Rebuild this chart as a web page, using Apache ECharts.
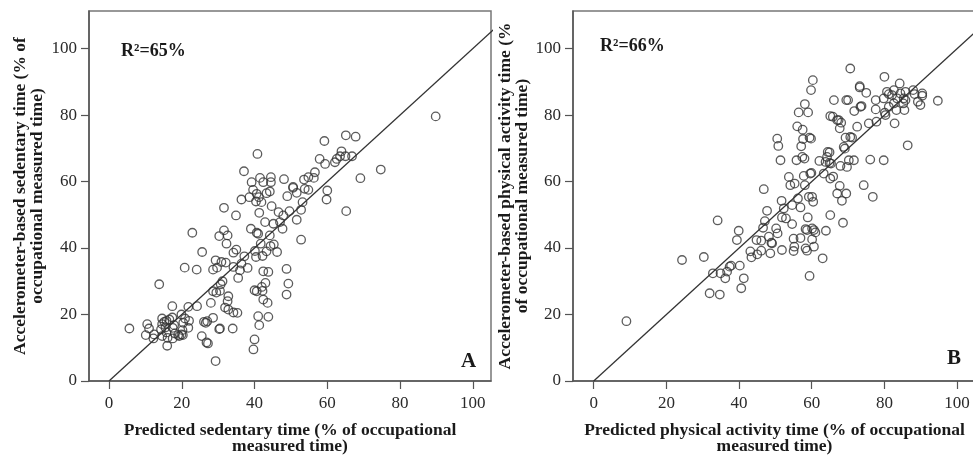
<!DOCTYPE html>
<html>
<head>
<meta charset="utf-8">
<script src="https://cdn.jsdelivr.net/npm/echarts@6/dist/echarts.min.js"></script>
<style>html,body{margin:0;padding:0;background:#fff}#c{width:973px;height:455px}</style>
</head>
<body>
<div id="c"></div>
<script>
// ---- data ----
const tickValues = [0, 20, 40, 60, 80, 100];
const identityLine = [[0, 0], [110, 110]];

const sedX = [5.6,89.8,74.7,69.1,65.2,59.2,57.9,59.4,65.1,67.8,63.9,62.6,63.5,65.0,66.8,62.1,60.0,59.8,56.6,56.3,54.8,53.6,53.8,54.8,53.2,52.8,51.6,52.8,50.6,50.6,51.6,49.0,49.6,48.1,47.9,46.6,47.0,47.7,45.2,45.3,46.2,48.8,49.3,48.8,44.7,44.2,44.5,44.5,42.4,41.5,43.3,42.9,44.2,44.4,43.3,42.2,43.8,42.4,43.0,42.4,43.6,43.8,42.0,42.2,40.6,40.0,41.0,41.3,40.0,39.7,40.8,39.2,39.6,40.6,40.4,41.2,41.9,41.3,38.6,36.4,37.1,34.9,39.0,40.6,41.0,41.7,40.1,40.4,37.2,36.4,38.1,36.0,35.5,34.2,35.0,34.2,32.1,30.9,29.3,29.7,28.6,31.6,30.3,32.6,32.3,31.6,31.2,30.7,30.5,28.6,29.5,32.8,32.6,31.9,32.8,34.2,35.3,28.0,28.6,30.3,30.5,34.0,26.6,27.0,26.8,27.2,25.5,29.3,22.9,25.6,20.8,24.1,24.2,21.8,19.9,20.9,22.0,20.4,21.8,20.2,19.9,19.0,20.3,17.4,13.8,17.4,17.9,16.6,15.8,17.5,15.5,14.6,14.6,15.2,14.3,15.8,14.6,17.5,16.0,10.5,11.0,10.1,12.4,12.2,19.3,18.1,16.1,26.1];
const sedY = [15.8,79.6,63.6,61.0,51.1,72.2,66.8,65.3,73.9,73.5,69.1,66.8,67.6,67.6,67.6,65.8,57.3,54.6,62.8,61.1,61.3,60.6,57.8,57.5,53.8,51.5,48.5,42.5,58.1,58.4,56.6,55.6,51.1,60.7,49.8,50.8,47.8,45.8,47.3,41.1,38.8,33.7,29.3,26.0,52.6,57.0,61.3,59.8,59.8,61.1,56.5,47.8,43.8,40.6,39.0,37.6,32.8,33.0,29.5,24.5,23.5,19.3,28.3,27.1,27.0,27.3,19.5,16.8,12.5,9.5,68.3,59.8,57.5,56.3,54.0,55.3,53.8,50.6,55.3,54.6,63.1,49.8,45.8,44.6,44.3,41.3,39.1,37.3,37.5,35.3,34.0,33.3,31.0,34.3,39.5,38.6,35.6,35.8,36.3,34.1,33.5,45.3,43.6,43.8,41.3,52.1,30.0,29.1,27.1,27.0,26.6,25.5,24.0,22.1,21.5,20.6,20.5,23.5,19.0,15.6,15.8,15.8,17.5,18.0,11.6,11.3,13.5,6.0,44.6,38.8,34.1,33.5,22.5,22.3,20.0,18.8,18.1,17.5,16.0,15.3,14.0,13.8,13.8,22.5,29.1,19.1,16.8,18.5,18.1,16.0,16.1,18.8,17.1,17.8,15.5,14.6,13.5,12.8,10.6,17.1,15.8,13.8,14.0,12.8,13.5,14.3,13.0,17.8];

const paX = [9.0,24.3,30.3,34.1,31.9,34.7,32.8,34.9,36.2,36.7,37.4,37.8,40.2,39.9,39.4,40.6,41.3,43.1,43.4,44.8,46.1,45.0,46.1,46.8,47.1,47.7,46.6,48.2,48.9,49.1,48.6,50.2,50.6,51.8,50.5,50.8,51.4,51.7,52.3,51.8,52.9,53.7,54.1,54.6,54.6,55.0,55.2,55.0,55.3,55.8,56.0,56.2,56.4,56.9,56.9,57.1,57.4,57.5,57.6,57.8,58.0,58.1,58.3,58.3,58.1,58.7,58.7,58.9,59.0,59.2,59.4,59.8,59.4,59.6,59.9,60.1,60.1,59.8,60.3,60.4,60.6,60.6,61.0,60.1,62.1,63.0,63.9,63.3,63.8,64.2,64.4,64.9,64.9,65.1,65.1,65.9,65.3,65.1,66.1,65.8,67.0,67.4,68.1,67.7,67.9,67.7,67.0,68.3,68.6,68.8,69.1,69.3,69.5,70.0,69.7,70.2,69.5,70.6,70.6,71.1,71.6,71.7,72.5,73.2,73.2,73.4,73.7,74.3,75.0,75.7,76.1,76.8,77.6,77.6,77.8,79.8,80.0,80.1,80.3,79.8,80.7,81.2,82.1,82.6,81.2,82.6,82.8,83.3,83.5,84.2,84.4,85.2,85.3,85.5,85.8,85.8,86.4,87.9,88.3,89.2,89.9,90.4,90.4,94.7];
const paY = [18.0,36.4,37.3,48.3,26.4,26.0,32.4,32.4,30.9,32.9,34.4,34.7,34.7,45.2,42.4,27.9,30.9,39.0,37.2,42.4,42.2,38.1,39.2,57.7,48.1,51.2,46.1,43.4,41.6,41.4,38.4,45.9,44.4,39.4,72.9,70.7,66.4,54.2,51.9,49.2,48.9,61.4,58.9,52.9,47.2,42.8,40.4,39.1,59.4,66.4,76.6,54.9,80.8,52.2,43.0,70.6,67.4,75.6,72.8,61.7,66.9,58.9,45.7,39.9,83.3,45.4,39.2,49.2,80.8,55.4,73.2,72.9,31.6,62.4,62.6,55.4,45.9,87.5,90.5,53.9,45.4,40.4,44.7,42.6,66.2,36.9,45.2,62.4,65.9,67.4,68.9,65.6,68.8,60.9,49.9,61.5,65.4,79.7,84.5,79.5,78.5,78.5,77.7,76.0,64.7,58.7,56.4,54.2,47.6,70.4,69.9,73.2,84.5,84.5,64.4,66.4,56.4,94.0,73.4,73.2,66.4,81.2,76.5,88.7,88.3,82.5,82.7,58.9,86.7,77.5,66.6,55.4,81.7,84.5,78.0,66.4,91.5,80.7,80.0,85.0,87.0,86.3,86.0,87.5,82.5,83.5,77.5,81.5,85.0,89.5,86.5,83.5,85.0,81.5,84.5,87.0,70.9,87.5,86.3,84.0,83.0,86.5,85.8,84.3];

const titles = {
  sedX: 'Predicted sedentary time (% of occupational\nmeasured time)',
  sedY: 'Accelerometer-based sedentary time (% of\noccupational measured time)',
  paX: 'Predicted physical activity time (% of occupational\nmeasured time)',
  paY: 'Accelerometer-based physical activity time (%\nof occupational measured time)'
};
const r2Labels = ['R\u00b2=65%', 'R\u00b2=66%'];
const panelLabels = ['A', 'B'];

// ---- chart ----
const SERIF = '"Liberation Serif","Times New Roman",serif';
const AX = '#555';
const pairs = (xs, ys) => xs.map((x, i) => [x, ys[i]]);

function xAxis(idx, min, max, name) {
  return {
    gridIndex: idx, type: 'value', min: min, max: max,
    name: name, nameLocation: 'middle', nameGap: 42,
    nameTextStyle: { fontFamily: SERIF, fontWeight: 'bold', fontSize: 17.5, color: '#1a1a1a', lineHeight: 15.5 },
    axisLine: { show: true, onZero: false, lineStyle: { color: AX, width: 1.5 } },
    axisTick: { show: true, inside: false, length: 8, lineStyle: { color: AX, width: 1.2 }, customValues: tickValues },
    axisLabel: { fontFamily: SERIF, fontSize: 17, color: '#2a2a2a', margin: 14, customValues: tickValues },
    splitLine: { show: false }
  };
}
function yAxis(idx, name, gap) {
  return {
    gridIndex: idx, type: 'value', min: 0, max: 111.3,
    name: name, nameLocation: 'middle', nameGap: gap,
    nameTextStyle: { fontFamily: SERIF, fontWeight: 'bold', fontSize: 17.5, color: '#1a1a1a', lineHeight: 17 },
    axisLine: { show: true, onZero: false, lineStyle: { color: AX, width: 1.5 } },
    axisTick: { show: true, inside: false, length: 8, lineStyle: { color: AX, width: 1.2 }, customValues: tickValues },
    axisLabel: { fontFamily: SERIF, fontSize: 17, color: '#2a2a2a', margin: 12, customValues: tickValues },
    splitLine: { show: false }
  };
}
const scatterStyle = { color: 'rgba(0,0,0,0)', borderColor: '#333', borderWidth: 1.3 };

const chart = echarts.init(document.getElementById('c'), null, { renderer: 'canvas' });
chart.setOption({
  backgroundColor: '#fff',
  animation: false,
  grid: [
    { left: 89, top: 11, width: 402, height: 370, show: true, borderColor: '#777', borderWidth: 1.5, backgroundColor: 'transparent', containLabel: false, outerBoundsMode: 'none' },
    { left: 573, top: 11, width: 403, height: 370, show: true, borderColor: '#777', borderWidth: 1.5, backgroundColor: 'transparent', containLabel: false, outerBoundsMode: 'none' }
  ],
  xAxis: [xAxis(0, -5.5, 105, titles.sedX), xAxis(1, -5.7, 105.2, titles.paX)],
  yAxis: [yAxis(0, titles.sedY, 43), yAxis(1, titles.paY, 42)],
  series: [
    { type: 'line', xAxisIndex: 0, yAxisIndex: 0, data: identityLine, symbol: 'none', clip: true,
      lineStyle: { color: '#333', width: 1.3 }, z: 1 },
    { type: 'scatter', xAxisIndex: 0, yAxisIndex: 0, data: pairs(sedX, sedY), symbol: 'circle', symbolSize: 8.5,
      itemStyle: scatterStyle, z: 2 },
    { type: 'line', xAxisIndex: 1, yAxisIndex: 1, data: identityLine, symbol: 'none', clip: true,
      lineStyle: { color: '#333', width: 1.3 }, z: 1 },
    { type: 'scatter', xAxisIndex: 1, yAxisIndex: 1, data: pairs(paX, paY), symbol: 'circle', symbolSize: 8.5,
      itemStyle: scatterStyle, z: 2 }
  ],
  graphic: [
    { type: 'text', left: 121, top: 42, style: { text: r2Labels[0], font: 'bold 18px ' + SERIF, fill: '#1a1a1a' } },
    { type: 'text', left: 600, top: 37, style: { text: r2Labels[1], font: 'bold 18px ' + SERIF, fill: '#1a1a1a' } },
    { type: 'text', left: 461, top: 351, style: { text: panelLabels[0], font: 'bold 21px ' + SERIF, fill: '#1a1a1a' } },
    { type: 'text', left: 947, top: 348, style: { text: panelLabels[1], font: 'bold 21px ' + SERIF, fill: '#1a1a1a' } }
  ]
});
</script>
</body>
</html>
